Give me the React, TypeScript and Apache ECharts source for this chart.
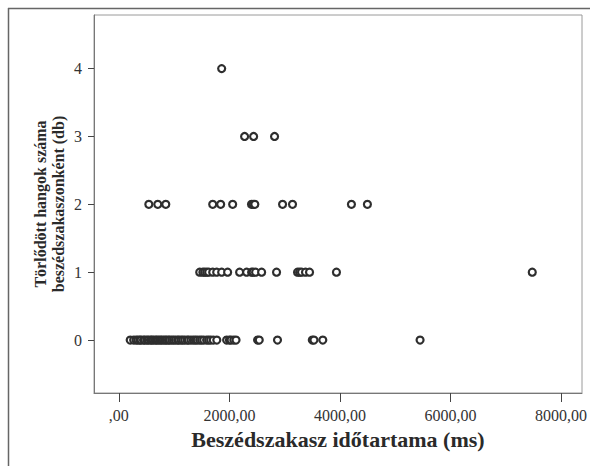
import React, { useEffect, useRef } from "react";
import * as echarts from "echarts";

// Beszédszakasz időtartama (ms) for each count of deleted sounds
const zeroX = [
  205, 268, 312, 345, 381, 402, 447, 470, 508, 533, 571, 596, 622, 658, 684,
  712, 745, 771, 803, 836, 862, 895, 921, 958, 990, 1024, 1063, 1087, 1126,
  1158, 1194, 1236, 1262, 1305, 1347, 1383, 1418, 1462, 1497, 1535, 1588,
  1624, 1661, 1708, 1772, 1950, 2000, 2030, 2080, 2120, 2510, 2540, 2870,
  3500, 3530, 3690, 5450,
];
const oneX = [
  1463, 1520, 1553, 1590, 1625, 1698, 1770, 1860, 1968, 2185, 2312, 2402,
  2430, 2474, 2583, 2853, 3233, 3270, 3305, 3377, 3450, 3937, 7480,
];
const twoX = [
  542, 704, 849, 1698, 1842, 2059, 2400, 2430, 2460, 2962, 3142, 4208, 4497,
];
const threeX = [2275, 2438, 2817];
const fourX = [1860];

const xTicks = [0, 2000, 4000, 6000, 8000];
const yTicks = [0, 1, 2, 3, 4];

const xTitle = "Beszédszakasz időtartama (ms)";
const yTitle = "Törlődött hangok száma\nbeszédszakaszonként (db)";

const FONT = "'Liberation Serif', 'DejaVu Serif', serif";

export default function App() {
  const ref = useRef<HTMLDivElement>(null);

  useEffect(() => {
    if (!ref.current) return;
    const chart = echarts.init(ref.current, null, { renderer: "svg" });

    const data: number[][] = [];
    [zeroX, oneX, twoX, threeX, fourX].forEach((arr, y) =>
      arr.forEach((x) => data.push([x, y]))
    );

    chart.setOption({
      animation: false,
      backgroundColor: "#ffffff",
      grid: {
        left: 94,
        top: 15,
        right: 8,
        bottom: 73,
        show: true,
        borderColor: "#9a9a9a",
        borderWidth: 1,
      },
      xAxis: {
        type: "value",
        min: -450,
        max: 8380,
        splitLine: { show: false },
        axisLine: { show: true, onZero: false, lineStyle: { color: "#777", width: 1 } },
        axisTick: {
          show: true,
          customValues: xTicks,
          length: 9,
          lineStyle: { color: "#444", width: 1 },
        },
        axisLabel: {
          customValues: xTicks,
          margin: 14,
          color: "#333",
          fontFamily: FONT,
          fontSize: 16,
          formatter: (v: number) => (v === 0 ? ",00" : v.toFixed(2).replace(".", ",")),
        },
        name: xTitle,
        nameLocation: "middle",
        nameGap: 35,
        nameMoveOverlap: false,
        nameTextStyle: {
          color: "#2a2a2a",
          fontFamily: FONT,
          fontSize: 22,
          fontWeight: "bold",
        },
      },
      yAxis: {
        type: "value",
        min: -0.78,
        max: 4.79,
        splitLine: { show: false },
        axisLine: { show: true, onZero: false, lineStyle: { color: "#777", width: 1 } },
        axisTick: {
          show: true,
          customValues: yTicks,
          length: 6,
          lineStyle: { color: "#444", width: 1 },
        },
        axisLabel: {
          customValues: yTicks,
          margin: 12,
          color: "#333",
          fontFamily: FONT,
          fontSize: 16,
        },
        name: yTitle,
        nameLocation: "middle",
        nameRotate: 90,
        nameGap: 27,
        nameMoveOverlap: false,
        nameTextStyle: {
          color: "#2a2a2a",
          fontFamily: FONT,
          fontSize: 16,
          fontWeight: "bold",
          lineHeight: 18,
        },
      },
      graphic: [
        {
          type: "line",
          shape: { x1: 8, y1: 8.5, x2: 590, y2: 8.5 },
          style: { stroke: "#666", lineWidth: 1.5 },
        },
        {
          type: "line",
          shape: { x1: 8.5, y1: 8, x2: 8.5, y2: 466 },
          style: { stroke: "#666", lineWidth: 1.5 },
        },
      ],
      series: [
        {
          type: "scatter",
          data,
          symbol: "circle",
          symbolSize: 7,
          itemStyle: {
            color: "#ffffff",
            borderColor: "#2e2e2e",
            borderWidth: 2.2,
            opacity: 1,
          },
        },
      ],
    });

    return () => chart.dispose();
  }, []);

  return (
    <div
      ref={ref}
      style={{ position: "fixed", left: 0, top: 0, width: 590, height: 466 }}
    />
  );
}
